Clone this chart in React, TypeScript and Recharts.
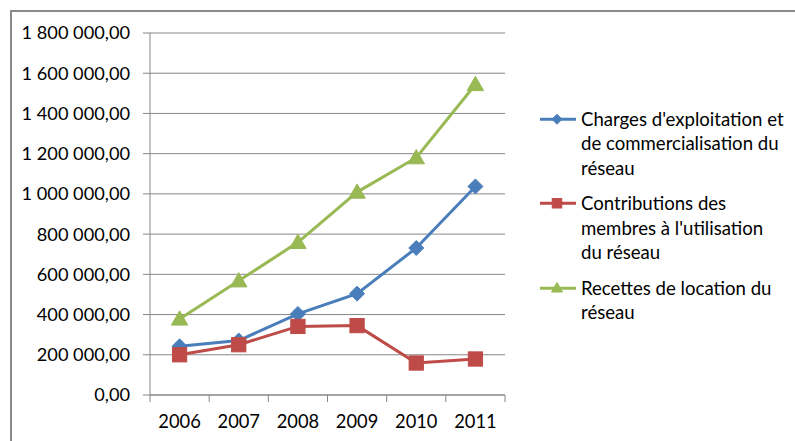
import React from 'react';
import { LineChart, Line, XAxis, YAxis, CartesianGrid } from 'recharts';

const years = ['2006', '2007', '2008', '2009', '2010', '2011'];
const charges = [242000, 271000, 403000, 504000, 731000, 1037000];
const contributions = [200000, 250000, 341000, 345000, 159000, 179000];
const recettes = [378000, 568000, 759000, 1009000, 1180000, 1544000];
const yTicks = [0, 200000, 400000, 600000, 800000, 1000000, 1200000, 1400000, 1600000, 1800000];

const seriesNames = [
  "Charges d'exploitation et de commercialisation du réseau",
  "Contributions des membres à l'utilisation du réseau",
  'Recettes de location du réseau',
];
const legendLines = [
  ["Charges d'exploitation et", 'de commercialisation du', 'réseau'],
  ['Contributions des', "membres à l'utilisation", 'du réseau'],
  ['Recettes de location du', 'réseau'],
];

const COLORS = ['#4A7EBB', '#BE4B48', '#98B954'];
const SHAPES = ['diamond', 'square', 'triangle'];
const GRID = '#868686';
const FONT = 'Lato, "Open Sans", sans-serif';

const data = years.map((y, i) => ({
  year: y,
  charges: charges[i],
  contributions: contributions[i],
  recettes: recettes[i],
}));

const fmt = (v: number) => {
  const [i, d] = v.toFixed(2).split('.');
  return i.replace(/\B(?=(\d{3})+(?!\d))/g, ' ') + ',' + d;
};

function Marker({ cx, cy, shape, color, r }: any) {
  if (cx == null || cy == null) return null;
  if (shape === 'diamond') {
    return (
      <path
        d={`M${cx},${cy - r} L${cx + r},${cy} L${cx},${cy + r} L${cx - r},${cy} Z`}
        fill={color}
        stroke={color}
        strokeWidth={1}
      />
    );
  }
  if (shape === 'square') {
    const s = r * 0.95;
    return <rect x={cx - s} y={cy - s} width={2 * s} height={2 * s} fill={color} stroke={color} strokeWidth={1} />;
  }
  const h = r * 1.9;
  const w = r * 1.1;
  return (
    <path
      d={`M${cx},${cy - h / 2 - 1} L${cx + w},${cy + h / 2 - 1} L${cx - w},${cy + h / 2 - 1} Z`}
      fill={color}
      stroke={color}
      strokeWidth={1}
    />
  );
}

function XTick(props: any) {
  const { x, y, payload, index, visibleTicksCount } = props;
  const half = payload && payload.offset ? payload.offset : 29.6;
  const last = index === (visibleTicksCount ?? 6) - 1;
  return (
    <g>
      <line x1={x - half} y1={y} x2={x - half} y2={y + 7} stroke={GRID} strokeWidth={1} />
      {last && <line x1={x + half} y1={y} x2={x + half} y2={y + 7} stroke={GRID} strokeWidth={1} />}
      <text x={x} y={y + 33} textAnchor="middle" fontFamily={FONT} fontSize={18.3} fill="#000">
        {payload.value}
      </text>
    </g>
  );
}

function LegendBlock() {
  return (
    <div
      style={{
        position: 'absolute',
        left: 540,
        top: 106.75,
        width: 255,
        fontFamily: FONT,
        fontSize: 18.6,
        color: '#000',
        lineHeight: '24.5px',
      }}
    >
      {legendLines.map((lines, i) => (
        <div key={i} style={{ display: 'flex', marginBottom: 11 }} title={seriesNames[i]}>
          <svg width={41} height={24.5} style={{ flex: '0 0 auto' }}>
            <line x1={0} y1={12.25} x2={36} y2={12.25} stroke={COLORS[i]} strokeWidth={3} />
            <Marker cx={17} cy={12.25} shape={SHAPES[i]} color={COLORS[i]} r={5} />
          </svg>
          <div>
            {lines.map((l, j) => (
              <div key={j} style={{ whiteSpace: 'nowrap' }}>{l}</div>
            ))}
          </div>
        </div>
      ))}
    </div>
  );
}

const keys = ['charges', 'contributions', 'recettes'];

export default function App() {
  return (
    <div
      style={{
        position: 'absolute',
        left: 0,
        top: 0,
        width: 795,
        height: 441,
        overflow: 'hidden',
        background: '#fff',
      }}
    >
      <div
        style={{
          position: 'absolute',
          left: 10,
          top: 10,
          width: 900,
          height: 500,
          border: '2px solid #8a8a8a',
        }}
      />
      <div style={{ position: 'absolute', left: 0, top: 0 }}>
        <LineChart width={795} height={441} data={data} margin={{ top: 33, right: 290, bottom: 0, left: 0 }}>
          <CartesianGrid vertical={false} stroke={GRID} strokeWidth={1} />
          <XAxis
            dataKey="year"
            scale="band"
            height={46}
            axisLine={{ stroke: GRID, strokeWidth: 1 }}
            tickLine={false}
            tickSize={0}
            tickMargin={0}
            tick={<XTick />}
            interval={0}
          />
          <YAxis
            width={150}
            domain={[0, 1800000]}
            ticks={yTicks}
            tickFormatter={fmt}
            axisLine={{ stroke: GRID, strokeWidth: 1 }}
            tickLine={{ stroke: GRID }}
            tickSize={7}
            tickMargin={13}
            tick={{ fontFamily: FONT, fontSize: 18.2, fill: '#000' }}
            interval={0}
          />
          {keys.map((k, i) => (
            <Line
              key={k}
              dataKey={k}
              name={seriesNames[i]}
              stroke={COLORS[i]}
              strokeWidth={3}
              isAnimationActive={false}
              dot={(p: any) => (
                <Marker key={`${k}-${p.index}`} cx={p.cx} cy={p.cy} shape={SHAPES[i]} color={COLORS[i]} r={7.5} />
              )}
              activeDot={false}
            />
          ))}
        </LineChart>
      </div>
      <LegendBlock />
    </div>
  );
}
